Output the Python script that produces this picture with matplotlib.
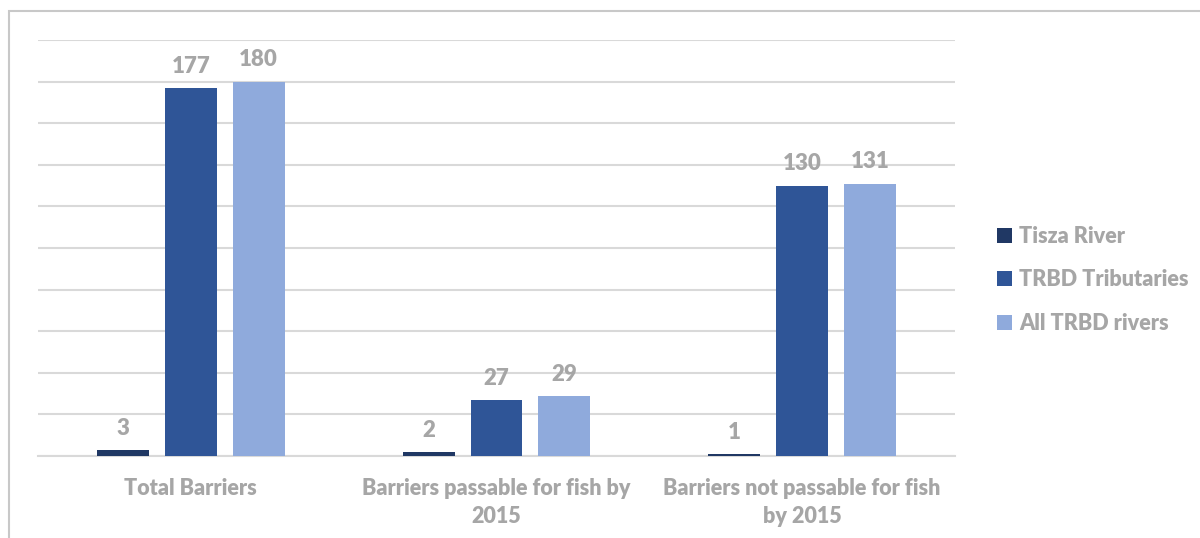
import matplotlib.pyplot as plt
import numpy as np
from matplotlib.patches import Rectangle

categories = ["Total Barriers", "Barriers passable for fish by\n2015",
              "Barriers not passable for fish\nby 2015"]
series_names = ["Tisza River", "TRBD Tributaries", "All TRBD rivers"]
tisza = [3, 2, 1]
tributaries = [177, 27, 130]
all_rivers = [180, 29, 131]
colors = ["#203864", "#2F5597", "#8FAADC"]

plt.rcParams["font.family"] = ["Lato", "DejaVu Sans"]
text_color = "#A6A6A6"

fig = plt.figure(figsize=(12, 5.38), dpi=100)
ax = fig.add_axes([38 / 1200, 1 - 456 / 538, (955 - 38) / 1200, (456 - 40) / 538])

# outer chart border
fig.patches.append(Rectangle((9 / 1200, -0.1), 1.2, 1 - 11 / 538 + 0.1,
                             transform=fig.transFigure, fill=False,
                             edgecolor="#C8C8C8", linewidth=1.5))

x = np.arange(len(categories))
width = 0.17
step = 0.222
for i, (name, vals) in enumerate(zip(series_names, [tisza, tributaries, all_rivers])):
    pos = x + (i - 1) * step
    ax.bar(pos, vals, width=width, color=colors[i], label=name, zorder=3)
    for p, v in zip(pos, vals):
        ax.annotate(str(v), (p, v), xytext=(0, 8), textcoords="offset points",
                    ha="center", va="bottom", fontsize=16, fontweight="heavy",
                    color=text_color)

ax.set_xlim(-0.5, 2.5)
ax.set_ylim(0, 200)
ax.set_yticks(np.arange(0, 201, 20))
ax.yaxis.grid(True, color="#D9D9D9", linewidth=1.5, zorder=0)
ax.tick_params(axis="y", left=False, labelleft=False)
ax.tick_params(axis="x", bottom=False, pad=12)
ax.set_xticks(x)
ax.set_xticklabels(categories, fontsize=15.5, fontweight="heavy", color=text_color,
                   linespacing=1.45)
for side in ["top", "right", "left"]:
    ax.spines[side].set_visible(False)
ax.spines["bottom"].set_color("#D9D9D9")
ax.spines["bottom"].set_linewidth(1.5)

leg = fig.legend(loc="center left", bbox_to_anchor=(0.815, 0.48), frameon=False,
                 fontsize=15.5, handlelength=0.7, handleheight=0.7,
                 labelspacing=1.05, handletextpad=0.3)
for t in leg.get_texts():
    t.set_color(text_color)
    t.set_fontweight("heavy")

fig.savefig("out.png", dpi=100)
